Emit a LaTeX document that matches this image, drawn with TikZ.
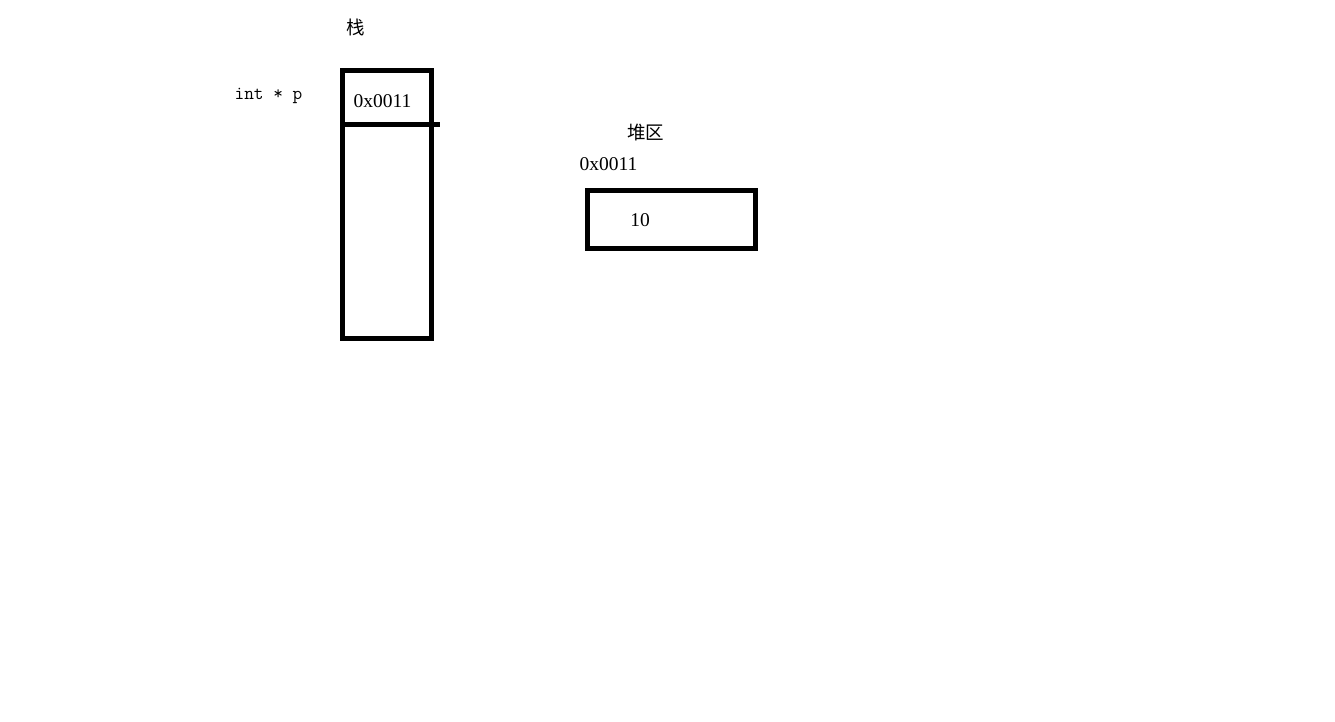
\documentclass[tikz,border=0pt]{standalone}
\usepackage{fontspec}
\setmainfont{Liberation Serif}
\newfontfamily\cjk{Noto Sans CJK SC}
\newfontfamily\monofnt{Latin Modern Mono}
\begin{document}
\begin{tikzpicture}[x=1pt,y=-1pt,
  box/.style={draw=black, line width=5pt, inner sep=0pt},
  lbl/.style={inner sep=0pt, font=\fontsize{19.5}{20}\selectfont},
  cjklbl/.style={inner sep=0pt, font=\cjk\fontsize{18.5}{20}\selectfont},
  monolbl/.style={inner sep=0pt, font=\monofnt\fontsize{18.8}{20}\selectfont}]
\useasboundingbox[fill=white] (0,0) rectangle (1335,721);
% stack
\node[box, minimum width=89pt, minimum height=267.4pt] (stack) at (387,204.5) {};
\coordinate (divstart) at (stack.west |- 0,124);
\coordinate (divend) at (440,124);
\draw[line width=5pt] (divstart) -- (divend);
\node[cjklbl] (stacktitle) at (356,27) {栈};
\node[monolbl] (ptr) at (268.5,95.5) {int * p};
\node[lbl] (addr1) at (382.5,101.5) {0x0011};
% heap
\node[box, minimum width=168pt, minimum height=57.7pt] (heap) at (671.5,219.7) {};
\node[cjklbl] (heaptitle) at (645.5,133) {堆区};
\node[lbl] (addr2) at (608.5,164.5) {0x0011};
\node[lbl] (val) at (640,220.5) {10};
\end{tikzpicture}
\end{document}
